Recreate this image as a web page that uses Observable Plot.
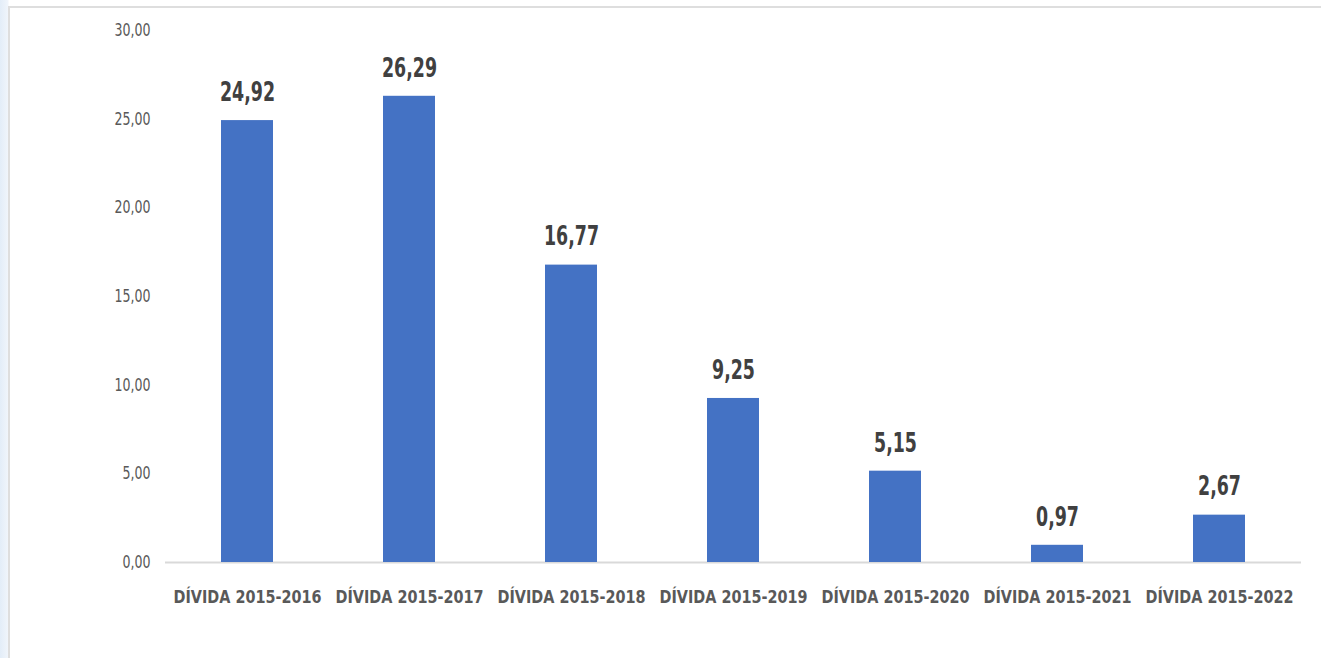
<!DOCTYPE html>
<html>
<head>
<meta charset="utf-8">
<script src="https://cdn.jsdelivr.net/npm/d3@7"></script>
<script src="https://cdn.jsdelivr.net/npm/@observablehq/plot@0.6"></script>
<style>
  html, body { margin: 0; padding: 0; background: #ffffff; width: 1321px; height: 658px; overflow: hidden; }
  #bg { position: absolute; left: 0; top: 0; width: 1321px; height: 658px;
        background: linear-gradient(90deg, #e3edf8 0px, #f0f5fb 8px, #ffffff 9px); }
  #frame { position: absolute; left: 8px; top: 6px; width: 1313px; height: 652px;
           border-left: 2px solid #dedede; border-top: 2px solid #dedede; background: #ffffff; }
  #chart { position: absolute; left: 0; top: 0; }
</style>
</head>
<body>
<div id="bg"></div>
<div id="frame"></div>
<div id="chart"></div>
<script>
const categories = ["DÍVIDA 2015-2016", "DÍVIDA 2015-2017", "DÍVIDA 2015-2018", "DÍVIDA 2015-2019", "DÍVIDA 2015-2020", "DÍVIDA 2015-2021", "DÍVIDA 2015-2022"];
const values = [24.92, 26.29, 16.77, 9.25, 5.15, 0.97, 2.67];
const yTicks = [0, 5, 10, 15, 20, 25, 30];

const data = categories.map((c, i) => ({category: c, value: values[i]}));
const fmt = v => d3.format(".2f")(v).replace(".", ",");
const font = "'DejaVu Sans Condensed', 'DejaVu Sans', sans-serif";

const chart = Plot.plot({
  width: 1321,
  height: 658,
  marginLeft: 165,
  marginRight: 20,
  marginTop: 30,
  marginBottom: 96,
  style: {fontFamily: font, background: "transparent", overflow: "visible", fontStretch: "condensed"},
  x: {domain: categories, paddingInner: 0.68, paddingOuter: 0.34, label: null},
  y: {domain: [0, 30], label: null},
  marks: [
    Plot.ruleY([0], {stroke: "#d9d9d9", strokeWidth: 2}),
    Plot.barY(data, {x: "category", y: "value", fill: "#4472c4"}),
    Plot.text(data, {x: "category", y: "value", text: d => fmt(d.value), dy: -28,
      fontSize: 26, fontWeight: "bold", fill: "#404040", lineAnchor: "middle", className: "vlab"}),
    Plot.axisY({ticks: yTicks, tickFormat: fmt, tickSize: 0, tickPadding: 15, label: null,
      fontSize: 17, color: "#595959", className: "ylab"}),
    Plot.axisX({tickSize: 0, tickPadding: 28, label: null, fontSize: 17.5, fontWeight: "bold", color: "#595959", className: "xlab"})
  ]
});
document.getElementById("chart").appendChild(chart);

// horizontally condense text to match the narrow typeface of the reference
function squeeze(cls, sample, target) {
  const texts = Array.from(chart.querySelectorAll(`.${cls} text`));
  if (!texts.length) return;
  const ref = texts.find(t => t.textContent === sample) || texts[0];
  const k = target / ref.getComputedTextLength();
  texts.forEach(t => {
    const w = t.getComputedTextLength();
    t.setAttribute("textLength", (w * k).toFixed(2));
    t.setAttribute("lengthAdjust", "spacingAndGlyphs");
  });
}
squeeze("ylab", "30,00", 36);
squeeze("vlab", "24,92", 55);
squeeze("xlab", "DÍVIDA 2015-2016", 148);
</script>
</body>
</html>
